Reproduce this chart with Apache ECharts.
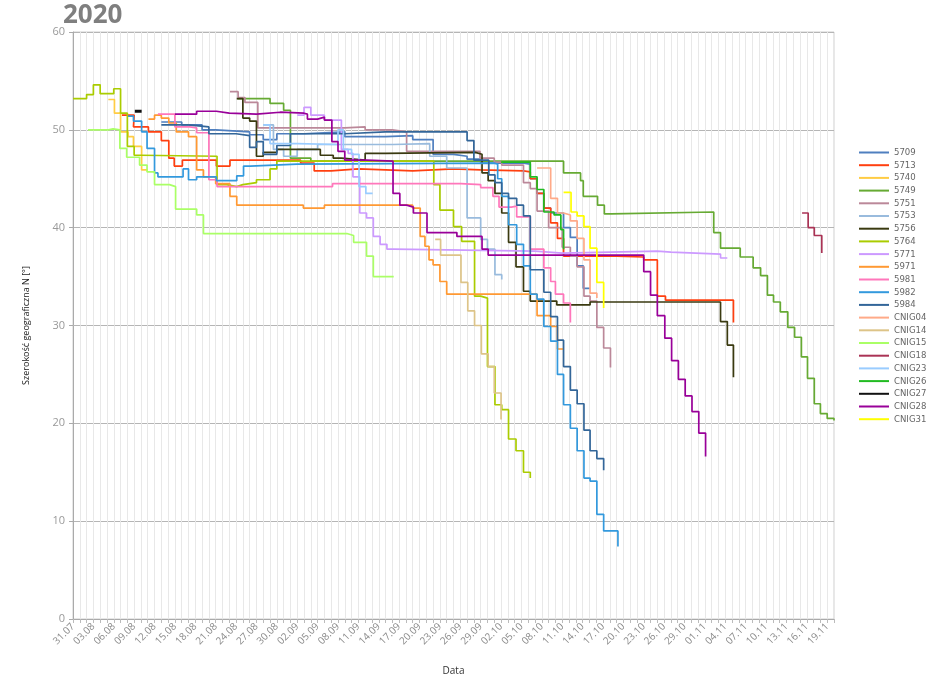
<!DOCTYPE html>
<html><head><meta charset="utf-8">
<script src="https://cdn.jsdelivr.net/npm/echarts@6/dist/echarts.min.js"></script>
<style>html,body{margin:0;padding:0;background:#fff}#c{width:927px;height:681px}</style>
</head><body><div id="c"></div>
<script>
const tickLabels = ['31.07','03.08','06.08','09.08','12.08','15.08','18.08','21.08','24.08','27.08','30.08','02.09','05.09','08.09','11.09','14.09','17.09','20.09','23.09','26.09','29.09','02.10','05.10','08.10','11.10','14.10','17.10','20.10','23.10','26.10','29.10','01.11','04.11','07.11','10.11','13.11','16.11','19.11'];
const names = ['5709','5713','5740','5749','5751','5753','5756','5764','5771','5971','5981','5982','5984','CNIG04','CNIG14','CNIG15','CNIG18','CNIG23','CNIG26','CNIG27','CNIG28','CNIG31'];
const colors = ['#4f7fbf','#ff4010','#ffcc44','#66aa33','#bb8899','#99bbdd','#3a3a10','#aacc00','#cc99ff','#ff9933','#ff77bb','#3399dd','#336699','#ffaa88','#ddc488','#aaff66','#aa3355','#99ccff','#22bb22','#111111','#990099','#ffff00'];

// [day since 31.07, latitude]
const s5709 = [[13,50.8],[16,50.5],[19,50.0],[21,49.8],[26,49.5],[28,49.0],[30,49.6],[34,49.8],[40,49.3],[46,49.4],[50,49.0],[53,47.5],[56,47.3],[58,47.0],[60,46.6],[66.3,46.5],[67.3,45.0],[68.3,43.5],[69.3,42.0],[70.3,41.5],[72.2,40.0],[73.2,39.0],[74.2,36.1],[75.1,33.8],[76.1,33.8]];
const s5713 = [[7.2,51.5],[9.0,51.3],[8.9,50.3],[11.1,49.8],[13.0,48.9],[14.1,47.1],[14.9,46.3],[16.1,46.9],[21.1,46.3],[23.1,46.9],[33.5,46.6],[35.5,45.8],[38,46.0],[42,45.8],[50,46.0],[56,45.9],[60,45.8],[66.3,45.7],[67.3,45.0],[68.3,43.5],[69.3,42.0],[70.3,40.5],[71.3,38.9],[72.2,37.1],[80,37.0],[84,36.7],[86.0,33.0],[87.2,32.6],[97.2,30.3]];
const s5740 = [[5.2,53.1],[6.1,51.7],[7.0,49.8],[8.1,49.3],[8.9,48.3],[10.1,45.9],[11.0,45.9]];
const s5749 = [[24.2,53.2],[29.0,52.7],[31.0,52.0],[32.0,47.1],[35.0,46.8],[72.2,45.6],[74.7,44.8],[75.1,43.2],[77.2,42.3],[78.2,41.4],[79.2,41.6],[94.3,39.5],[95.3,37.9],[98.2,37.0],[100.1,35.9],[101.2,35.1],[102.2,33.1],[103.1,32.4],[104.1,31.4],[105.2,29.8],[106.2,28.8],[107.2,26.8],[108.1,24.6],[109.1,22.0],[110.0,21.0],[111.0,20.5],[112.0,20.3]];
const s5751 = [[23.1,53.9],[24.3,53.3],[25.3,52.8],[27.2,50.2],[40,50.3],[43,50.0],[47,49.8],[49.1,47.8],[59.9,47.1],[62,46.7],[63.1,46.4],[66.3,44.6],[67.3,44.0],[68.3,41.7],[70,40.0],[72,38.0],[73.2,37.1],[74.2,36.0],[75.2,33.0],[76.1,32.5],[77.1,29.8],[78.1,27.7],[79.1,25.7]];
const s5753 = [[28,50.5],[29.5,48.0],[31,47.3],[33,48.0],[36,48.5],[47.1,48.6],[52.5,47.3],[55,46.1],[58.0,41.0],[60.0,38.8],[61.0,37.8],[62.1,35.2],[63.1,34.7]];
const s5756 = [[24.1,53.2],[25.0,51.2],[26.0,50.9],[27.0,47.3],[28,47.7],[30,48.0],[36.4,47.4],[38.3,47.1],[39.5,46.9],[43,47.6],[46,47.7],[59.2,47.5],[60.2,45.6],[61.1,44.8],[62.1,43.5],[63.1,41.5],[64.1,38.5],[65.2,36.0],[66.3,33.5],[67.3,32.5],[71.2,32.1],[76.1,32.4],[95.3,30.4],[96.3,28.0],[97.2,24.7]];
const s5764 = [[0,53.2],[2,53.6],[3,54.6],[4,53.7],[6,54.2],[7,51.7],[8,48.3],[9,47.4],[10,47.3],[21.2,44.4],[22.6,44.2],[24.1,44.4],[25,44.6],[27,44.9],[29,46.0],[30,46.8],[53.1,44.4],[54.0,41.8],[56.0,40.1],[57.2,38.6],[59.1,33.0],[60,32.8],[61.0,25.8],[62.1,21.9],[63.1,21.4],[64.1,18.4],[65.2,17.2],[66.3,15.0],[67.3,14.4]];
const s5771 = [[33,51.5],[34,52.3],[35,51.5],[37,51.0],[39.5,48.0],[40.5,47.6],[41.2,45.2],[42.2,41.5],[43.2,41.0],[44.2,39.1],[45.2,38.3],[46.2,37.8],[47.2,37.6],[68,37.4],[72,37.6],[86,37.5],[88,37.3],[95.3,36.9],[96.3,36.9]];
const s5971 = [[11.1,51.1],[12.0,51.5],[13.0,51.2],[14.1,50.7],[15.2,49.8],[17,49.3],[18.2,45.9],[19.2,45.2],[21,44.5],[23.1,43.2],[24.1,42.3],[33.9,42.0],[37,42.3],[48,42.3],[50,42.0],[51.1,39.1],[51.8,38.1],[52.4,36.7],[53.0,36.2],[54.0,34.5],[55.0,33.2],[68.3,31.0],[70.3,29.9],[71.3,27.6],[72.2,27.6]];
const s5981 = [[12.5,51.6],[15.0,50.3],[17.2,50.2],[18.2,49.7],[20.0,44.9],[21.2,44.2],[38.2,44.5],[57.1,44.4],[60,44.1],[61.8,43.2],[62.7,42.1],[64.5,42.2],[65.3,41.1],[67.3,37.8],[69.3,35.9],[70.3,34.5],[71.0,33.2],[72.2,32.3],[73.2,30.3]];
const s5982 = [[8.1,51.4],[8.9,50.9],[10.1,49.8],[10.9,48.1],[12.0,45.6],[12.5,45.2],[16.2,46.0],[17.0,44.9],[18.2,45.2],[21.1,44.8],[24.1,45.3],[25.1,46.3],[26.1,46.5],[33,46.6],[62.0,46.5],[62.5,45.0],[63.1,43.2],[64.1,40.3],[65.3,38.3],[66.3,36.1],[67.3,33.2],[68.3,32.7],[69.3,29.9],[70.3,28.4],[71.3,25.0],[72.2,21.9],[73.2,19.5],[74.2,17.2],[75.2,14.4],[76.1,14.1],[77.1,10.7],[78.1,9.0],[80.2,7.4]];
const s5984 = [[13,50.5],[17,50.3],[20,49.6],[24,49.4],[26,48.2],[27,48.8],[28,47.5],[29,47.5],[30,48.4],[32,49.6],[40,49.8],[46,49.8],[58.0,48.9],[59.0,46.9],[61.2,45.4],[62.1,44.6],[63.1,43.5],[64.1,43.0],[65.3,42.3],[66.3,41.2],[67.3,35.7],[69.3,33.4],[70.3,30.9],[71.3,28.5],[72.2,25.8],[73.2,23.4],[74.2,22.0],[75.2,19.3],[76.1,17.2],[77.1,16.4],[78.1,15.2]];
const sCNIG04 = [[68.3,46.1],[70.3,43.0],[71.3,41.5],[72.2,41.3],[73.2,40.7],[74.2,38.9],[75.2,36.7],[76.1,33.3],[77.1,32.8]];
const sCNIG14 = [[53.3,38.8],[54.1,37.2],[57.1,34.4],[58.1,31.5],[59.1,30.0],[60.1,27.1],[61.1,25.8],[62.0,23.1],[63.0,20.4]];
const sCNIG15 = [[2.2,50.0],[5.2,50.1],[5.9,50.0],[6.9,48.1],[7.9,47.2],[9.8,46.4],[10.9,45.7],[12.0,44.4],[14.2,44.2],[15.1,41.9],[18.2,41.3],[19.2,39.4],[40.3,39.2],[41.3,38.5],[43.2,37.1],[44.2,35.0],[47.2,35.0]];
const sCNIG18 = [[107.3,41.5],[108.2,40.0],[109.1,39.2],[110.2,37.4]];
const sCNIG23 = [[28,50.5],[29,48.6],[33,48.5],[39.0,50.0],[39.8,48.0],[41,47.5],[42.1,44.2],[43.1,43.5],[44.1,43.5]];
const sCNIG26 = [[63,46.7],[67.3,45.2],[68.3,43.9],[69.3,41.6],[70.8,41.3],[71.8,39.8],[72.2,37.8]];
const sCNIG27 = [[9.1,51.9],[10.1,51.9]];
const sCNIG28 = [[15.0,51.6],[18.2,51.9],[21.1,51.7],[23,51.6],[27,51.8],[30.5,51.7],[34.0,51.6],[34.5,51.1],[36,51.3],[37,51.0],[38.1,48.8],[39.0,47.8],[40.0,46.9],[43.2,46.8],[47.1,43.5],[48.1,42.3],[49.1,42.1],[50.1,41.5],[52.1,39.5],[56.5,39.1],[60.2,37.8],[61.1,37.2],[84.0,35.5],[85.0,33.1],[86.0,31.0],[87.1,28.7],[88.1,26.4],[89.1,24.5],[90.1,22.8],[91.1,21.2],[92.1,19.0],[93.1,16.6]];
const sCNIG31 = [[72.2,43.6],[73.3,41.6],[74.2,41.2],[75.2,40.1],[76.1,37.9],[77.1,34.4],[78.1,31.8]];

const allData = [s5709,s5713,s5740,s5749,s5751,s5753,s5756,s5764,s5771,s5971,s5981,s5982,s5984,sCNIG04,sCNIG14,sCNIG15,sCNIG18,sCNIG23,sCNIG26,sCNIG27,sCNIG28,sCNIG31];

const chart = echarts.init(document.getElementById('c'));
const FONT = 'Open Sans';
chart.setOption({
  animation: false,
  backgroundColor: '#fff',
  color: colors,
  title: {text: '2020', left: 58, top: -2, textStyle: {fontFamily: FONT, fontWeight: 'bold', fontSize: 26, color: '#7f7f7f'}},
  grid: {left: 73, right: 93, top: 32, bottom: 61, show: true, borderColor: '#cfcfcf', borderWidth: 1},
  legend: {
    orient: 'vertical', left: 859, top: 147, padding: 0, icon: 'rect', itemWidth: 30, itemHeight: 2, itemGap: 1.7,
    textStyle: {fontFamily: 'DejaVu Sans Condensed', fontSize: 9.5, color: '#666', lineHeight: 11},
    data: names
  },
  xAxis: {
    type: 'value', min: 0, max: 112, interval: 1,
    name: 'Data', nameLocation: 'middle', nameGap: 47,
    nameTextStyle: {fontFamily: FONT, fontSize: 10, color: '#333'},
    axisLine: {lineStyle: {color: '#aaa'}},
    axisTick: {length: 4, lineStyle: {color: '#bbb'}},
    axisLabel: {rotate: 45, fontFamily: FONT, fontSize: 10, color: '#8a8a8a', margin: 6,
      formatter: v => (v % 3 === 0 && v / 3 < tickLabels.length) ? tickLabels[v / 3] : ''},
    splitLine: {show: true, lineStyle: {color: '#e8e8e8', width: 1}}
  },
  yAxis: {
    type: 'value', min: 0, max: 60, interval: 10,
    name: 'Szerokość geograficzna N [°]', nameLocation: 'middle', nameGap: 42,
    nameTextStyle: {fontFamily: FONT, fontSize: 9, color: '#222'},
    axisLine: {show: true, lineStyle: {color: '#aaa'}},
    axisTick: {show: true, length: 4, lineStyle: {color: '#aaa'}},
    axisLabel: {fontFamily: FONT, fontSize: 11, color: '#999', margin: 8},
    splitLine: {lineStyle: {color: '#b5b5b5', width: 1}}
  },
  series: names.map((n, i) => ({
    name: n, type: 'line', step: 'end', showSymbol: false, symbol: 'none',
    data: allData[i],
    lineStyle: {width: n === 'CNIG27' ? 3 : 1.7, color: colors[i]},
    itemStyle: {color: colors[i]}
  }))
});
</script></body></html>
